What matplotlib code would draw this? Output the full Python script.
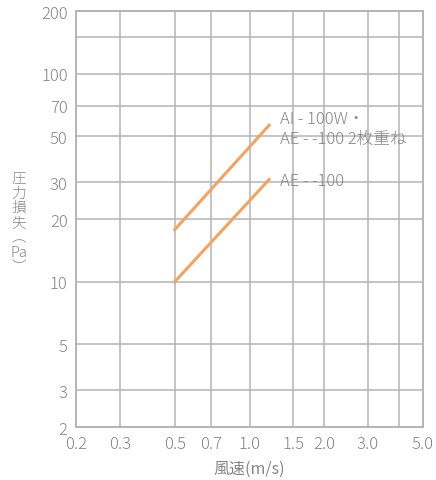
import matplotlib
matplotlib.use("Agg")
import matplotlib.pyplot as plt

plt.rcParams['font.family'] = ['Noto Sans CJK JP', 'DejaVu Sans']
plt.rcParams['font.weight'] = 'light'

# air speed (m/s) vs pressure loss (Pa)
speed = [0.5, 1.2]
loss_ae100 = [10, 31]
loss_double = [17.8, 56.5]

label_double = "AI - 100W・\nAE - -100 2枚重ね"
label_single = "AE - -100"

x_ticks = [0.2, 0.3, 0.5, 0.7, 1.0, 1.5, 2.0, 3.0, 5.0]
x_tick_labels = ["0.2", "0.3", "0.5", "0.7", "1.0", "1.5", "2.0", "3.0", "5.0"]
x_grid = [0.3, 0.5, 0.7, 1.0, 1.5, 2.0, 3.0, 4.0]
y_ticks = [2, 3, 5, 10, 20, 30, 50, 70, 100, 200]
y_grid = [3, 5, 10, 20, 30, 50, 70, 100, 150]

line_color = "#f2a462"
grid_color = "#b4b4b4"
text_color = "#858585"

fig = plt.figure(figsize=(4.36, 4.81), dpi=100)
ax = fig.add_axes([0.1743, 0.110, 0.7959, 0.865])

ax.set_xscale("log")
ax.set_yscale("log")
ax.set_xlim(0.2, 5.0)
ax.set_ylim(2, 200)

for gx in x_grid:
    ax.axvline(gx, color=grid_color, lw=1.1, zorder=1)
for gy in y_grid:
    ax.axhline(gy, color=grid_color, lw=1.1, zorder=1)

ax.plot(speed, loss_double, color=line_color, lw=2.2, zorder=3)
ax.plot(speed, loss_ae100, color=line_color, lw=2.2, zorder=3)

ax.text(1.33, loss_double[1] * 0.965, label_double, color=text_color,
        fontsize=12, va="center", ha="left", linespacing=1.15, zorder=4)
ax.text(1.33, loss_ae100[1] * 0.99, label_single, color=text_color,
        fontsize=12, va="center", ha="left", zorder=4)

ax.xaxis.set_major_locator(matplotlib.ticker.FixedLocator(x_ticks))
ax.xaxis.set_minor_locator(matplotlib.ticker.NullLocator())
ax.set_xticklabels(x_tick_labels)
ax.yaxis.set_major_locator(matplotlib.ticker.FixedLocator(y_ticks))
ax.yaxis.set_minor_locator(matplotlib.ticker.NullLocator())
ax.set_yticklabels([str(v) for v in y_ticks])
ax.tick_params(length=0, labelsize=12, colors=text_color, pad=6)

for s in ax.spines.values():
    s.set_color(grid_color)
    s.set_linewidth(1.4)

ax.set_xlabel("風速(m/s)", color=text_color, fontsize=11.5, labelpad=5)
fig.text(0.043, 0.536, "圧\n力\n損\n失\n︵\nPa\n︶", color=text_color,
         fontsize=10.5, ha="center", va="center", linespacing=1.08)

fig.savefig("out.png", dpi=100)
